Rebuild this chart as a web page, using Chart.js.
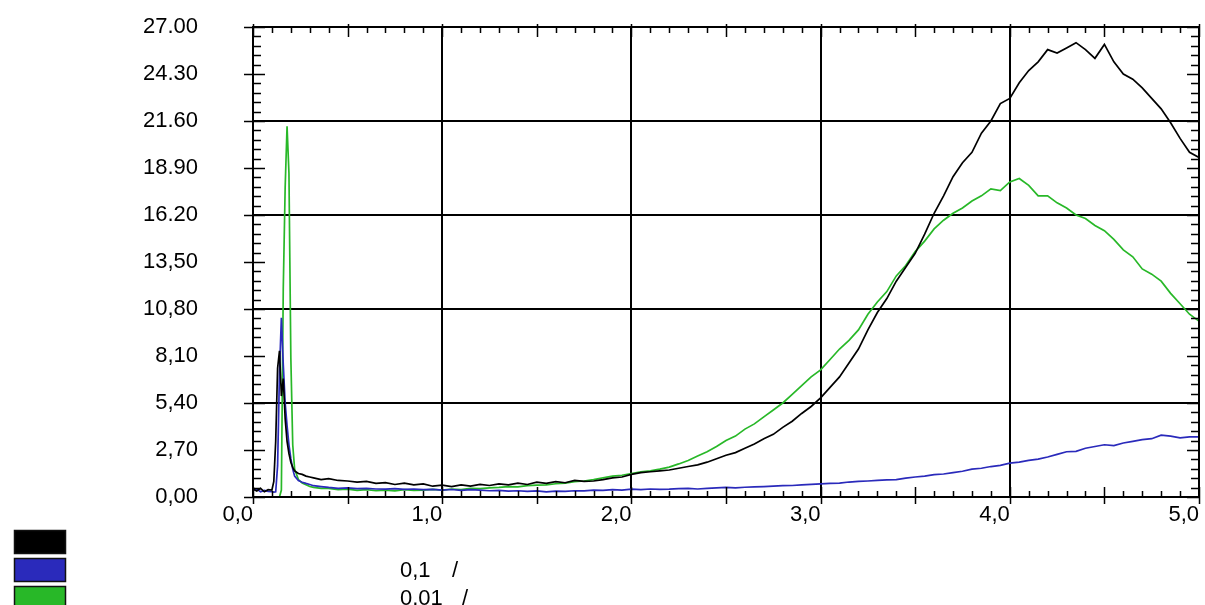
<!DOCTYPE html>
<html>
<head>
<meta charset="utf-8">
<script src="https://cdn.jsdelivr.net/npm/chart.js@4.4.1/dist/chart.umd.min.js"></script>
<style>
  html, body { margin: 0; padding: 0; background: #fff; }
  canvas { display: block; }
</style>
</head>
<body>
<canvas id="spectrum" width="1205" height="605"></canvas>
<script>
const FONT = "'Liberation Sans', Arial, sans-serif";

// x positions (dense around the peaks)
const xValues = [
  0, 0.02, 0.04, 0.06, 0.08, 0.10, 0.11, 0.12, 0.13, 0.14,
  0.15, 0.16, 0.17, 0.18, 0.19, 0.20, 0.21, 0.22, 0.24, 0.26,
  0.28, 0.30, 0.32, 0.36,
  0.40, 0.45, 0.50, 0.55, 0.60, 0.65, 0.70, 0.75, 0.80, 0.85,
  0.90, 0.95, 1.00, 1.05, 1.10, 1.15, 1.20, 1.25, 1.30, 1.35,
  1.40, 1.45, 1.50, 1.55, 1.60, 1.65, 1.70, 1.75, 1.80, 1.85,
  1.90, 1.95, 2.00, 2.05, 2.10, 2.15, 2.20, 2.25, 2.30, 2.35,
  2.40, 2.45, 2.50, 2.55, 2.60, 2.65, 2.70, 2.75, 2.80, 2.85,
  2.90, 2.95, 3.00, 3.05, 3.10, 3.15, 3.20, 3.25, 3.30, 3.35,
  3.40, 3.45, 3.50, 3.55, 3.60, 3.65, 3.70, 3.75, 3.80, 3.85,
  3.90, 3.95, 4.00, 4.05, 4.10, 4.15, 4.20, 4.25, 4.30, 4.35,
  4.40, 4.45, 4.50, 4.55, 4.60, 4.65, 4.70, 4.75, 4.80, 4.85,
  4.90, 4.95, 5.00
];

const blackValues = [
  0.45, 0.35, 0.5, 0.3, 0.42, 0.4, 0.9, 3.2, 7.4, 8.4,
  5.8, 6.8, 4.5, 3.2, 2.5, 2.0, 1.7, 1.5, 1.35, 1.3,
  1.2, 1.15, 1.1, 1.0,
  1.05, 0.95, 0.92, 0.85, 0.9, 0.78, 0.82, 0.72, 0.8, 0.7,
  0.75, 0.62, 0.68, 0.6, 0.7, 0.62, 0.72, 0.66, 0.75, 0.7,
  0.8, 0.72, 0.85, 0.78, 0.88, 0.82, 0.95, 0.9, 0.92, 1.0,
  1.1, 1.15, 1.3, 1.4, 1.45, 1.5, 1.55, 1.65, 1.75, 1.85,
  2.0, 2.2, 2.4, 2.55, 2.8, 3.05, 3.35, 3.6, 4.0, 4.35,
  4.8, 5.2, 5.7, 6.3, 6.9, 7.7, 8.5, 9.6, 10.6, 11.4,
  12.4, 13.2, 14.0, 15.1, 16.3, 17.3, 18.4, 19.2, 19.8, 20.9,
  21.6, 22.6, 22.9, 23.8, 24.5, 25.0, 25.7, 25.5, 25.8, 26.1,
  25.7, 25.2, 26.0, 25.0, 24.3, 24.0, 23.5, 22.9, 22.3, 21.5,
  20.6, 19.8, 19.5
];

const blueValues = [
  0.4, 0.45, 0.3, 0.38, 0.32, 0.3, 0.28, 0.3, 1.8, 7.2,
  10.3, 7.6, 5.4, 4.1, 3.0, 2.2, 1.6, 1.2, 0.95, 0.85,
  0.78, 0.72, 0.65, 0.6,
  0.55, 0.5, 0.52, 0.48, 0.5, 0.46, 0.45, 0.48, 0.44, 0.46,
  0.42, 0.44, 0.4, 0.43, 0.38, 0.42, 0.4, 0.36, 0.38, 0.34,
  0.36, 0.32, 0.35, 0.3, 0.34, 0.32, 0.36, 0.35, 0.4, 0.38,
  0.42, 0.4, 0.45, 0.42, 0.46, 0.44, 0.45, 0.48, 0.5, 0.46,
  0.5, 0.52, 0.55, 0.52, 0.56, 0.58, 0.6, 0.62, 0.65, 0.66,
  0.7, 0.72, 0.75, 0.78, 0.8, 0.86, 0.9, 0.92, 0.95, 0.98,
  1.0, 1.08, 1.15, 1.2, 1.28, 1.32, 1.4, 1.48, 1.6, 1.65,
  1.75, 1.82, 1.95, 2.0, 2.1, 2.18, 2.3, 2.45, 2.6, 2.62,
  2.8, 2.9, 3.0, 2.95, 3.1, 3.2, 3.3, 3.35, 3.55, 3.5,
  3.4, 3.45, 3.45
];

const greenValues = [
  0, 0, 0, 0, 0, 0, 0, 0, 0, 0,
  0.4, 12.0, 17.8, 21.3, 18.6, 8.0, 3.0, 1.6, 1.0, 0.8,
  0.7, 0.6, 0.55, 0.5,
  0.5, 0.42, 0.45, 0.38, 0.42, 0.36, 0.4, 0.35, 0.42, 0.38,
  0.4, 0.44, 0.4, 0.46, 0.42, 0.5, 0.48, 0.52, 0.55, 0.6,
  0.58, 0.65, 0.68, 0.7, 0.76, 0.8, 0.88, 0.92, 1.0, 1.1,
  1.2, 1.25, 1.35, 1.45, 1.5, 1.6, 1.72, 1.9, 2.1, 2.35,
  2.6, 2.9, 3.25, 3.5, 3.9, 4.2, 4.6, 5.0, 5.4, 5.9,
  6.4, 6.9, 7.3, 7.9, 8.5, 9.0, 9.6, 10.5, 11.2, 11.8,
  12.7, 13.3, 14.1, 14.7, 15.4, 15.9, 16.3, 16.6, 17.0, 17.3,
  17.7, 17.6, 18.1, 18.3, 17.9, 17.3, 17.3, 16.9, 16.6, 16.2,
  16.0, 15.6, 15.3, 14.8, 14.2, 13.8, 13.1, 12.8, 12.4, 11.7,
  11.1, 10.5, 10.1
];

const yTickValues = [0, 2.7, 5.4, 8.1, 10.8, 13.5, 16.2, 18.9, 21.6, 24.3, 27];
const yTickLabels = ["0,00", "2,70", "5,40", "8,10", "10,80", "13,50", "16.20", "18.90", "21.60", "24.30", "27.00"];
const xTickValues = [0, 1, 2, 3, 4, 5];
const xTickLabels = ["0,0", "1,0", "2,0", "3,0", "4,0", "5,0"];

const seriesColors = ["#000000", "#2a2abb", "#28b828"];
const legendTexts = ["", "0,1", "0,01"];

function toPoints(ys) {
  return xValues.map((x, i) => ({ x: x, y: ys[i] }));
}

// frame + small tick marks on all four sides, legend boxes
const frameTicks = {
  id: "frameTicks",
  afterDatasetsDraw(chart) {
    const { ctx, chartArea: a, scales } = chart;
    const xs = scales.x, ys = scales.y;
    ctx.save();
    ctx.strokeStyle = "#000";
    ctx.lineWidth = 1.5;
    ctx.beginPath();
    for (let i = 0; i <= 50; i++) {
      const py = Math.round(ys.getPixelForValue(i * 0.54)) + 0.5;
      const major = i % 5 === 0;
      ctx.moveTo(a.left - (major ? 9 : 0), py);
      ctx.lineTo(a.left + (major ? 12 : 8), py);
      ctx.moveTo(a.right - (major ? 12 : 8), py);
      ctx.lineTo(a.right, py);
    }
    for (let i = 0; i <= 50; i++) {
      const px = Math.round(xs.getPixelForValue(i * 0.1)) + 0.5;
      const major = i % 5 === 0;
      ctx.moveTo(px, a.bottom - (major ? 10 : 6));
      ctx.lineTo(px, a.bottom + (major ? 7 : 0));
      ctx.moveTo(px, a.top - (major ? 3 : 0));
      ctx.lineTo(px, a.top + (major ? 10 : 6));
    }
    ctx.stroke();

    ctx.lineWidth = 2;
    ctx.strokeRect(a.left, a.top, a.right - a.left, a.bottom - a.top);

    // legend
    ctx.font = "22px " + FONT;
    ctx.textBaseline = "middle";
    seriesColors.forEach((c, i) => {
      const top = 530 + i * 28;
      ctx.fillStyle = c;
      ctx.fillRect(14, top, 52, 24);
      ctx.lineWidth = 1.5;
      ctx.strokeStyle = "#111";
      ctx.strokeRect(14.5, top + 0.5, 51, 23);
      if (legendTexts[i]) {
        ctx.fillStyle = "#000";
        ctx.textAlign = "left";
        ctx.fillText(legendTexts[i], 400, top + 13);
        ctx.fillText("/", legendTexts[i].length > 3 ? 462 : 452, top + 13);
      }
    });
    ctx.restore();
  }
};

new Chart(document.getElementById("spectrum"), {
  type: "line",
  data: {
    datasets: [
      { data: toPoints(blackValues), borderColor: seriesColors[0] },
      { data: toPoints(blueValues), borderColor: seriesColors[1] },
      { data: toPoints(greenValues), borderColor: seriesColors[2] }
    ]
  },
  options: {
    responsive: false,
    animation: false,
    devicePixelRatio: 1,
    layout: { autoPadding: false, padding: { top: 27, right: 6, left: 0, bottom: 0 } },
    elements: {
      point: { radius: 0 },
      line: { borderWidth: 1.7, tension: 0 }
    },
    plugins: { legend: { display: false }, tooltip: { enabled: false } },
    scales: {
      x: {
        type: "linear",
        min: 0,
        max: 5,
        afterBuildTicks: (s) => { s.ticks = xTickValues.map(v => ({ value: v })); },
        afterFit: (s) => { s.height = 108; s.paddingLeft = 0; s.paddingRight = 0; },
        ticks: {
          callback: (v, i) => xTickLabels[i],
          align: "end",
          padding: 5,
          maxRotation: 0,
          color: "#000",
          font: { size: 22, family: FONT }
        },
        grid: {
          drawTicks: false,
          lineWidth: 2,
          color: (c) => (c.index > 0 && c.index < 5) ? "#000" : "rgba(0,0,0,0)"
        },
        border: { display: false }
      },
      y: {
        type: "linear",
        min: 0,
        max: 27,
        afterBuildTicks: (s) => { s.ticks = yTickValues.map(v => ({ value: v })); },
        afterFit: (s) => { s.width = 253; s.paddingTop = 0; s.paddingBottom = 0; },
        ticks: {
          callback: (v, i) => yTickLabels[i],
          padding: 55,
          color: "#000",
          font: { size: 22, family: FONT }
        },
        grid: {
          drawTicks: false,
          lineWidth: 2,
          color: (c) => (c.index % 2 === 0 && c.index > 0 && c.index < 10) ? "#000" : "rgba(0,0,0,0)"
        },
        border: { display: false }
      }
    }
  },
  plugins: [frameTicks]
});
</script>
</body>
</html>
